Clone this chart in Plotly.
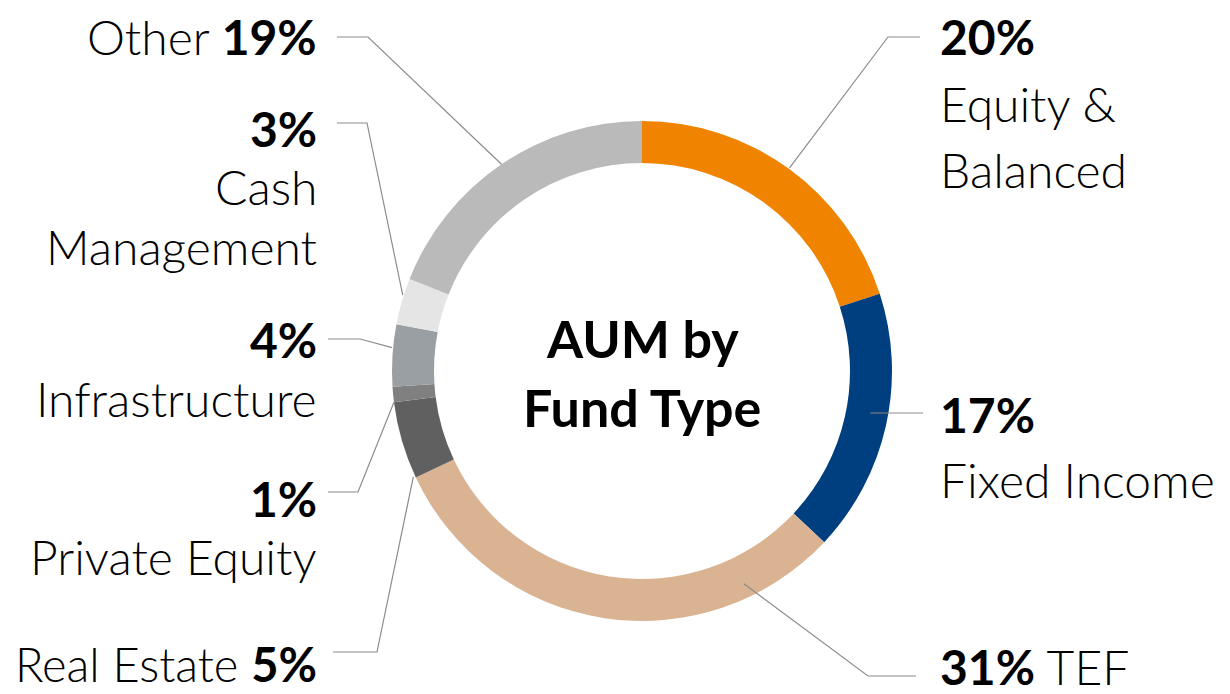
import math
import plotly.graph_objects as go

# ---- data ----
categories = ["Equity & Balanced", "Fixed Income", "TEF", "Real Estate",
              "Private Equity", "Infrastructure", "Cash Management", "Other"]
values = [20, 17, 31, 5, 1, 4, 3, 19]
colors = ["#F08300", "#003F7F", "#D9B392", "#606060",
          "#808080", "#9A9FA3", "#E5E5E5", "#BABABA"]

# ---- layout constants ----
OFF = 8                     # page body margin
W, H = 1230 - OFF, 694 - OFF
CX, CY, R = 642, 371, 250   # in window pixels
HOLE = 0.832
FONT = "Lato"
FS = 48
LINE_COLOR = "#8C8C8C"

def px(x):
    return (x - OFF) / W

def py(y):
    return 1 - (y - OFF) / H

fig = go.Figure()
fig.add_trace(go.Pie(
    labels=categories, values=values, sort=False, direction="clockwise",
    rotation=0, hole=HOLE, textinfo="none", hoverinfo="label+percent",
    marker=dict(colors=colors, line=dict(width=0)),
    domain=dict(x=[px(CX - R), px(CX + R)], y=[py(CY + R), py(CY - R)]),
    showlegend=False,
))

# anchor point on ring computed from cumulative data
total = sum(values)
cum = [sum(values[:i]) for i in range(len(values))]

def anchor(i, frac, rad):
    ang = 2 * math.pi * (cum[i] + frac * values[i]) / total
    return CX + rad * math.sin(ang), CY - rad * math.cos(ang)

# leader line config: index, frac in slice, radius, elbow x, line y, end x
leaders = [
    (0, 0.50, 251, 888, 37, 920),
    (1, 0.46, 232, None, 413, 923),
    (2, 0.19, 236, 868, 676, 916),
    (3, 0.02, 252, 377, 652, 333),
    (4, 0.00, 250, 358, 492, 328),
    (5, 0.62, 251, 360, 339, 328),
    (6, 0.63, 251, 367, 123, 337),
    (7, 0.50, 250, 368, 37, 337),
]
shapes = []
for i, frac, rad, ex, ly, endx in leaders:
    ax, ay = anchor(i, frac, rad)
    if ex is None:
        path = f"M {px(ax)} {py(ly)} L {px(endx)} {py(ly)}"
    else:
        path = (f"M {px(ax)} {py(ay)} L {px(ex)} {py(ly)} "
                f"L {px(endx)} {py(ly)}")
    shapes.append(dict(type="path", path=path, xref="paper", yref="paper",
                       line=dict(color=LINE_COLOR, width=1.2), layer="above"))

# label lines: text, side, baseline y, font size
label_lines = [
    ("Other <b>19%</b>", "L", 55, FS),
    ("<b>3%</b>", "L", 147, FS), ("Cash", "L", 205, FS),
    ("Management", "L", 265, FS),
    ("<b>4%</b>", "L", 358, FS), ("Infrastructure", "L", 417, FS),
    ("<b>1%</b>", "L", 517, FS), ("Private Equity", "L", 575, FS),
    ("Real Estate <b>5%</b>", "L", 682, 47),
    ("<b>20%</b>", "R", 55, FS), ("Equity &amp;", "R", 122, FS),
    ("Balanced", "R", 188, FS),
    ("<b>17%</b>", "R", 433, FS), ("Fixed Income", "R", 498, FS),
    ("<b>31%</b> TEF", "R", 685, FS),
]
annotations = []
for txt, side, base, fs in label_lines:
    annotations.append(dict(
        text=txt, xref="paper", yref="paper", showarrow=False, borderpad=0,
        x=px(318) if side == "L" else px(939),
        xanchor="right" if side == "L" else "left",
        y=py(base - 0.387 * fs), yanchor="middle",
        font=dict(family=FONT, size=fs, color="#000000", weight=300),
    ))

CFS = 52
for txt, base in [("<b>AUM by</b>", 358), ("<b>Fund Type</b>", 427)]:
    annotations.append(dict(
        text=txt, xref="paper", yref="paper", showarrow=False, borderpad=0,
        x=px(CX), xanchor="center", y=py(base - 0.387 * CFS), yanchor="middle",
        font=dict(family=FONT, size=CFS, color="#000000"),
    ))

fig.update_layout(
    width=W, height=H, margin=dict(l=0, r=0, t=0, b=0),
    paper_bgcolor="white", plot_bgcolor="white",
    shapes=shapes, annotations=annotations,
)
fig.write_html("out.html")
